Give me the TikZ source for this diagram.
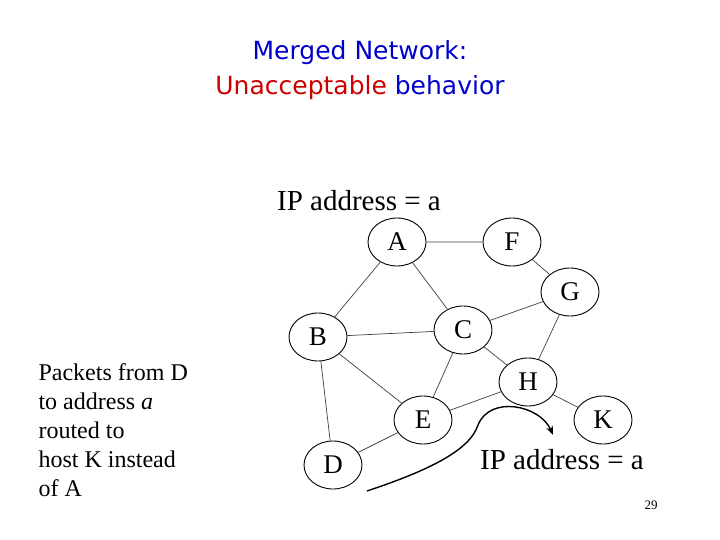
\documentclass[tikz,border=0pt]{standalone}
\usepackage{fontspec}
\setmainfont{Liberation Serif}
\newfontfamily\titlefont{DejaVu Sans}
\usetikzlibrary{shapes.geometric,arrows.meta}
\begin{document}
\begin{tikzpicture}[x=1pt,y=-1pt,
  nd/.style={ellipse,draw,line width=0.9pt,minimum width=58pt,minimum height=48pt,inner sep=0pt,font=\fontsize{27}{27}\selectfont},
  ed/.style={line width=0.7pt,draw=black!75},
  lbl/.style={font=\fontsize{29}{29}\selectfont}]
\useasboundingbox (0,0) rectangle (720,540);
\node[font=\titlefont\fontsize{25}{35}\selectfont,align=center,text=blue!80!black] (title) at (360,70)
  {Merged Network:\\\textcolor{red!80!black}{Unacceptable} behavior};
\node[nd] (A) at (397,242) {A};
\node[nd] (F) at (512,242) {F};
\node[nd] (G) at (570,292) {G};
\node[nd] (B) at (318,337) {B};
\node[nd] (C) at (463,330) {C};
\node[nd] (H) at (528,382) {H};
\node[nd] (E) at (423,420) {E};
\node[nd] (K) at (603,420) {K};
\node[nd] (D) at (333,465) {D};
\draw[ed] (A)--(F) (F)--(G) (A)--(B) (A)--(C) (G)--(C) (G)--(H) (B)--(C) (B)--(E) (B)--(D)
  (C)--(E) (C)--(H) (H)--(E) (H)--(K) (E)--(D);
\node[lbl] (ip1) at (359,201) {IP address = a};
\node[lbl] (ip2) at (562,460) {IP address = a};
\coordinate (s) at (367,491);
\coordinate (t) at (553,435);
\draw[line width=1.4pt,-{Stealth[length=9pt,width=7pt]}] (s) .. controls (430,470) and (470,450) .. (478,425)
  .. controls (490,395) and (540,405) .. (t);
\node[font=\fontsize{24}{29}\selectfont,align=left,anchor=north west] (txt) at (35,360)
  {Packets from D\\to address \textit{a}\\routed to\\host K instead\\of A};
\node[font=\fontsize{13}{13}\selectfont] (pg) at (651,505) {29};
\end{tikzpicture}
\end{document}
